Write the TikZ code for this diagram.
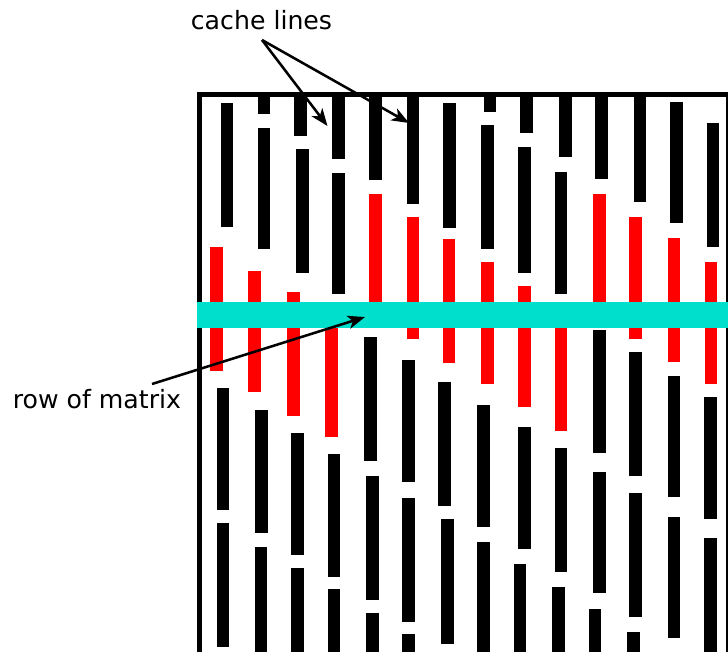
\documentclass[tikz,border=0pt]{standalone}
\usepackage{fontspec}
\setmainfont{DejaVu Sans}
\usetikzlibrary{arrows.meta}
\definecolor{rowcyan}{RGB}{0,222,204}
\definecolor{linered}{RGB}{255,0,0}
\tikzset{
  callout/.style={line width=1.9pt, -{Stealth[length=13pt,width=10pt,inset=3.5pt]}},
  label text/.style={inner sep=0pt, font=\fontsize{18.9}{22}\selectfont},
}
% one cache line: colour, left x, top y, bottom y
\newcommand{\cacheline}[4]{\fill[#1] (#2,#3) rectangle ({#2+12.7},#4);}
\begin{document}
\begin{tikzpicture}[x=0.75pt,y=-0.75pt]
\useasboundingbox (0,0) rectangle (728,651);
\clip (0,0) rectangle (728,651);

% column 1
\cacheline{black}{220.7}{103}{227}
\cacheline{linered}{210}{247}{371}
\cacheline{black}{216.7}{388}{510}
\cacheline{black}{216.7}{523}{647}
% column 2
\cacheline{black}{257.7}{94}{114}
\cacheline{black}{257.7}{128}{249}
\cacheline{linered}{248.3}{271}{392}
\cacheline{black}{255}{410}{533}
\cacheline{black}{254.5}{547}{670}
% column 3
\cacheline{black}{294}{94}{136}
\cacheline{black}{296}{149}{273}
\cacheline{linered}{287}{292}{416}
\cacheline{black}{291}{433}{555}
\cacheline{black}{291}{568}{692}
% column 4
\cacheline{black}{332.3}{94}{159}
\cacheline{black}{332.3}{173}{294}
\cacheline{linered}{325}{313}{437}
\cacheline{black}{327.7}{454}{577}
\cacheline{black}{327.7}{589}{713}
% column 5
\cacheline{black}{369}{94}{180}
\cacheline{linered}{369}{194}{318}
\cacheline{black}{364}{337}{461}
\cacheline{black}{366}{476}{600}
\cacheline{black}{366}{613}{737}
% column 6
\cacheline{black}{406.7}{94}{204}
\cacheline{linered}{406.7}{217}{339}
\cacheline{black}{402.3}{360}{482}
\cacheline{black}{402.3}{498}{622}
\cacheline{black}{402.3}{634}{758}
% column 7
\cacheline{black}{443.3}{103}{227.5}
\cacheline{linered}{442.7}{238.5}{362.5}
\cacheline{black}{438.3}{382}{506}
\cacheline{black}{441}{519}{644}
% column 8
\cacheline{black}{483.7}{94}{112}
\cacheline{black}{481.3}{125}{249}
\cacheline{linered}{481.3}{262}{384}
\cacheline{black}{477}{405}{527}
\cacheline{black}{477}{542}{666}
% column 9
\cacheline{black}{520.3}{94}{133}
\cacheline{black}{518}{147}{273}
\cacheline{linered}{518}{286}{407}
\cacheline{black}{518}{427}{549}
\cacheline{black}{513.7}{564}{688}
% column 10
\cacheline{black}{559}{94}{157}
\cacheline{black}{554.7}{172}{294}
\cacheline{linered}{554.7}{307}{431}
\cacheline{black}{554.7}{448}{572}
\cacheline{black}{552.3}{587}{711}
% column 11
\cacheline{black}{595}{94}{179}
\cacheline{linered}{593}{194}{318}
\cacheline{black}{593}{330}{453}
\cacheline{black}{593}{472}{593}
\cacheline{black}{588.7}{609}{733}
% column 12
\cacheline{black}{633.7}{94}{202}
\cacheline{linered}{629.3}{217}{339}
\cacheline{black}{629.3}{352}{476}
\cacheline{black}{629.3}{493}{617}
\cacheline{black}{627.3}{632}{756}
% column 13
\cacheline{black}{670.3}{102}{223}
\cacheline{linered}{667.7}{238}{362}
\cacheline{black}{667.7}{376}{497}
\cacheline{black}{667.7}{517}{638}
% column 14
\cacheline{black}{706.7}{123}{247}
\cacheline{linered}{704.7}{262}{384}
\cacheline{black}{704}{397}{519}
\cacheline{black}{704}{538}{662}

% matrix outline
\draw[line width=4pt] (199.2,700) -- (199.2,94.5) -- (728.4,94.5) -- (728.4,700);

% the highlighted row
\fill[rowcyan] (197.3,302.3) rectangle (730,327.7);

% labels
\node[label text, anchor=base] (cachelines) at (261.5,29) {cache lines};
\node[label text, anchor=base west] (matrixrow) at (12.5,408.5) {row of matrix};

\coordinate (clfoot) at (262,40);
\coordinate (lineA) at (327.5,126);
\coordinate (lineB) at (409,123);
\coordinate (rowfoot) at (152,384);
\coordinate (rowmid) at (365,317);

\draw[callout] (clfoot) -- (lineA);
\draw[callout] (clfoot) -- (lineB);
\draw[callout] (rowfoot) -- (rowmid);
\end{tikzpicture}
\end{document}
